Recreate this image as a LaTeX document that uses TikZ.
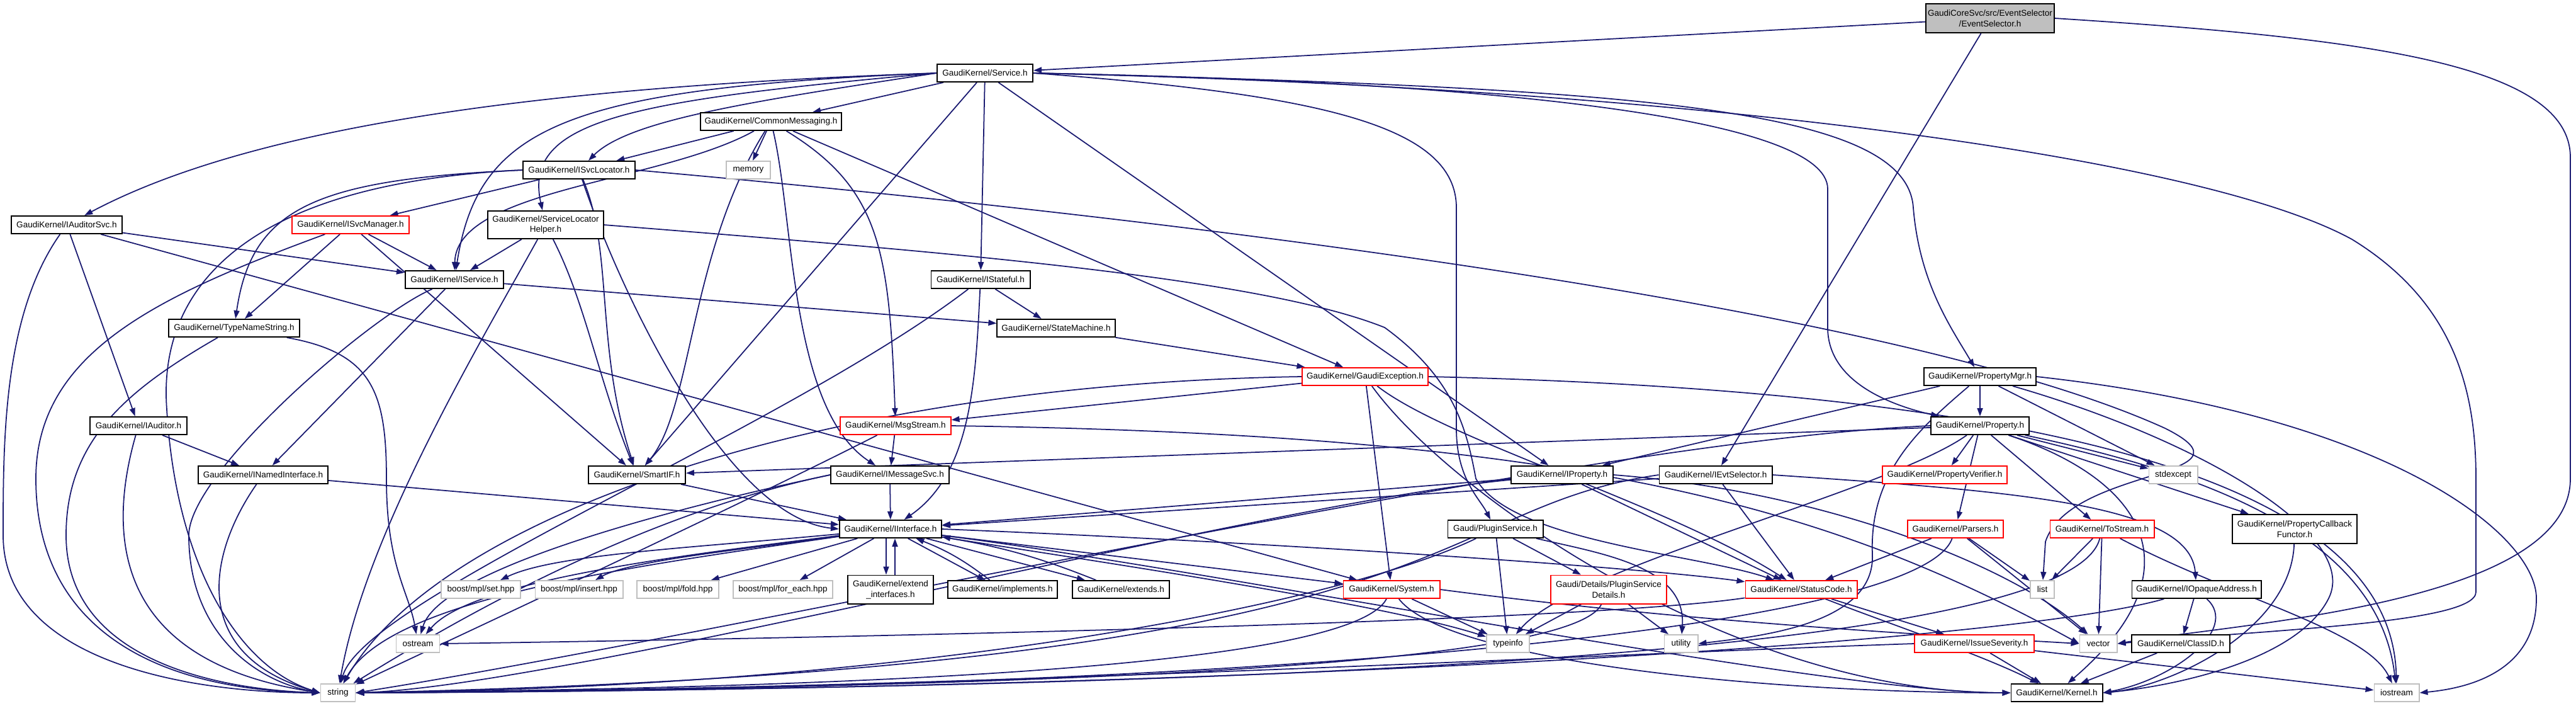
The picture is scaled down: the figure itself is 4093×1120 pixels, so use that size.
\documentclass[tikz,border=0pt]{standalone}
\usepackage{fontspec}
\setmainfont{Liberation Sans}
\usetikzlibrary{arrows.meta}
\definecolor{edgeblue}{RGB}{25,25,112}
\definecolor{lgray}{RGB}{191,191,191}
\newcommand\dxfont{\fontsize{3.85pt}{4.8pt}\selectfont}
\pgfdeclarelayer{background}
\pgfsetlayers{background,main}
\tikzset{
  box/.style={draw=black, fill=white, line width=0.55pt, inner sep=0pt, minimum height=0.28cm, font=\dxfont, align=center},
  rbox/.style={box, draw=red},
  gbox/.style={box, draw=lgray},
  dep/.style={draw=edgeblue, line width=0.5pt, -{Triangle[length=0.13cm,width=0.09cm]}}
}
\begin{document}
\begin{tikzpicture}[x=0.01cm,y=0.01cm]
\useasboundingbox (0,0) rectangle (4093,-1120);
% nodes
\node[box, fill=lgray, minimum width=2.04cm, minimum height=0.46cm] (es) at (3162,-29) {GaudiCoreSvc/src/EventSelector\\/EventSelector.h};
\node[box, minimum width=1.52cm] (svc) at (1565,-116) {GaudiKernel/Service.h};
\node[box, minimum width=2.23cm] (cm) at (1225,-193) {GaudiKernel/CommonMessaging.h};
\node[gbox, minimum width=0.70cm] (mem) at (1189,-270) {memory};
\node[box, minimum width=1.78cm] (isl) at (920,-270) {GaudiKernel/ISvcLocator.h};
\node[box, minimum width=1.76cm] (ias) at (106,-357) {GaudiKernel/IAuditorSvc.h};
\node[rbox, minimum width=1.85cm] (ism) at (557,-357) {GaudiKernel/ISvcManager.h};
\node[box, minimum width=1.83cm, minimum height=0.44cm] (slh) at (867,-357) {GaudiKernel/ServiceLocator\\Helper.h};
\node[box, minimum width=1.56cm] (isv) at (722,-444) {GaudiKernel/IService.h};
\node[box, minimum width=1.57cm] (ist) at (1558,-444) {GaudiKernel/IStateful.h};
\node[box, minimum width=2.07cm] (tns) at (372,-521) {GaudiKernel/TypeNameString.h};
\node[box, minimum width=1.87cm] (stm) at (1678,-521) {GaudiKernel/StateMachine.h};
\node[rbox, minimum width=2.00cm] (gex) at (2169,-598) {GaudiKernel/GaudiException.h};
\node[box, minimum width=1.78cm] (pmg) at (3146,-598) {GaudiKernel/PropertyMgr.h};
\node[box, minimum width=1.54cm] (iau) at (220,-676) {GaudiKernel/IAuditor.h};
\node[rbox, minimum width=1.75cm] (msg) at (1423,-676) {GaudiKernel/MsgStream.h};
\node[box, minimum width=1.56cm] (prp) at (3146,-676) {GaudiKernel/Property.h};
\node[box, minimum width=2.05cm] (inm) at (418,-754) {GaudiKernel/INamedInterface.h};
\node[box, minimum width=1.54cm] (sif) at (1012,-754) {GaudiKernel/SmartIF.h};
\node[box, minimum width=1.88cm] (ims) at (1414,-754) {GaudiKernel/IMessageSvc.h};
\node[box, minimum width=1.62cm] (ipr) at (2482,-754) {GaudiKernel/IProperty.h};
\node[box, minimum width=1.79cm] (iev) at (2726,-754) {GaudiKernel/IEvtSelector.h};
\node[rbox, minimum width=1.98cm] (pve) at (3090,-754) {GaudiKernel/PropertyVerifier.h};
\node[gbox, minimum width=0.77cm] (sex) at (3453,-754) {stdexcept};
\node[box, minimum width=1.62cm] (iif) at (1415,-840) {GaudiKernel/IInterface.h};
\node[box, minimum width=1.51cm] (plg) at (2376,-840) {Gaudi/PluginService.h};
\node[rbox, minimum width=1.52cm] (par) at (3107,-840) {GaudiKernel/Parsers.h};
\node[rbox, minimum width=1.65cm] (tos) at (3340,-840) {GaudiKernel/ToStream.h};
\node[box, minimum width=1.98cm, minimum height=0.46cm] (pcf) at (3646,-840) {GaudiKernel/PropertyCallback\\Functor.h};
\node[gbox, minimum width=1.26cm] (bset) at (764,-936) {boost/mpl/set.hpp};
\node[gbox, minimum width=1.39cm] (bins) at (920,-936) {boost/mpl/insert.hpp};
\node[gbox, minimum width=1.30cm] (bfol) at (1077,-936) {boost/mpl/fold.hpp};
\node[gbox, minimum width=1.58cm] (bfor) at (1244,-936) {boost/mpl/for\_each.hpp};
\node[box, minimum width=1.36cm, minimum height=0.45cm] (exi) at (1415,-936) {GaudiKernel/extend\\\_interfaces.h};
\node[box, minimum width=1.74cm] (imp) at (1593,-936) {GaudiKernel/implements.h};
\node[box, minimum width=1.54cm] (ext) at (1781,-936) {GaudiKernel/extends.h};
\node[rbox, minimum width=1.53cm] (sys) at (2211,-936) {GaudiKernel/System.h};
\node[rbox, minimum width=1.84cm, minimum height=0.45cm] (psd) at (2556,-936) {Gaudi/Details/PluginService\\Details.h};
\node[rbox, minimum width=1.77cm] (stc) at (2862,-936) {GaudiKernel/StatusCode.h};
\node[gbox, minimum width=0.38cm] (lst) at (3245,-936) {list};
\node[box, minimum width=2.05cm] (ioa) at (3490,-936) {GaudiKernel/IOpaqueAddress.h};
\node[gbox, minimum width=0.69cm] (ost) at (664,-1022) {ostream};
\node[gbox, minimum width=0.68cm] (tyi) at (2396,-1022) {typeinfo};
\node[gbox, minimum width=0.53cm] (utl) at (2671,-1022) {utility};
\node[gbox, minimum width=0.59cm] (vec) at (3334,-1022) {vector};
\node[box, minimum width=1.56cm] (cid) at (3465,-1022) {GaudiKernel/ClassID.h};
\node[rbox, minimum width=1.90cm] (iss) at (3137,-1022) {GaudiKernel/IssueSeverity.h};
\node[gbox, minimum width=0.55cm] (str) at (537,-1100) {string};
\node[box, minimum width=1.45cm] (ker) at (3268,-1100) {GaudiKernel/Kernel.h};
\node[gbox, minimum width=0.71cm] (ios) at (3808,-1100) {iostream};

\begin{pgfonlayer}{background}
% EventSelector
\draw[dep] (es) -- (svc);
\draw[dep] (es) -- (iev);
\draw[dep] (es.east) .. controls (3750,-60) and (4084,-100) .. (4084,-250) -- (4084,-760) .. controls (4084,-960) and (3550,-990) .. (vec.east);
% Service
\draw[dep] (svc.west) .. controls (950,-135) and (430,-185) .. (ias);
\draw[dep] (svc.west) .. controls (900,-140) and (760,-200) .. (isv);
\draw[dep] (svc.west) .. controls (1000,-160) and (830,-190) .. (slh);
\draw[dep] (svc.west) .. controls (1200,-160) and (1000,-190) .. (isl);
\draw[dep] (svc) -- (sif);
\draw[dep] (svc) -- (cm);
\draw[dep] (svc) -- (ist);
\draw[dep] (svc) -- (ipr);
\draw[dep] (svc.east) .. controls (2100,-150) and (2314,-200) .. (2314,-330) -- (2314,-680) .. controls (2314,-760) and (2350,-790) .. (plg);
\draw[dep] (svc.east) .. controls (2400,-130) and (2904,-190) .. (2904,-300) -- (2904,-520) .. controls (2904,-600) and (2990,-640) .. (prp);
\draw[dep] (svc.east) .. controls (2600,-140) and (3030,-170) .. (3040,-330) .. controls (3050,-450) and (3100,-520) .. (pmg);
\draw[dep] (svc.east) .. controls (2700,-140) and (3500,-250) .. (3737,-380) .. controls (3900,-480) and (3934,-620) .. (3934,-760) -- (3934,-940) .. controls (3934,-990) and (3600,-1000) .. (vec.east);
% CommonMessaging
\draw[dep] (cm) -- (isl);
\draw[dep] (cm) .. controls (1050,-290) and (725,-300) .. (isv);
\draw[dep] (cm) .. controls (1095,-400) and (1100,-650) .. (sif);
\draw[dep] (cm) -- (mem);
\draw[dep] (cm) .. controls (1262,-350) and (1255,-650) .. (ims);
\draw[dep] (cm) .. controls (1400,-300) and (1413,-400) .. (msg);
\draw[dep] (cm) -- (gex);
% ISvcLocator
\draw[dep] (isl) -- (ism);
\draw[dep] (isl.west) .. controls (500,-285) and (400,-330) .. (tns);
\draw[dep] (isl.west) .. controls (400,-290) and (250,-450) .. (265,-650) .. controls (280,-900) and (380,-1060) .. (str.west);
\draw[dep] (isl) .. controls (980,-450) and (1150,-820) .. (iif.west);
\draw[dep] (isl) .. controls (975,-400) and (945,-550) .. (sif);
\draw[dep] (isl.east) .. controls (1800,-340) and (3000,-480) .. (3440,-680) .. controls (3600,-760) and (3290,-740) .. (3250,-860) -- (lst);
% ISvcManager
\draw[dep] (ism) .. controls (250,-470) and (57,-560) .. (57,-760) .. controls (57,-1000) and (250,-1095) .. (str.west);
\draw[dep] (ism) -- (tns);
\draw[dep] (ism) -- (sif);
\draw[dep] (ism) -- (isv);
% IAuditorSvc
\draw[dep] (ias) .. controls (5,-500) and (5,-700) .. (5,-850) .. controls (5,-1050) and (300,-1100) .. (str.west);
\draw[dep] (ias) -- (iau);
\draw[dep] (ias) -- (sys);
\draw[dep] (ias) -- (isv);
% ServiceLocatorHelper
\draw[dep] (slh) -- (isv);
\draw[dep] (slh) .. controls (760,-550) and (580,-850) .. (str);
\draw[dep] (slh) .. controls (930,-480) and (950,-600) .. (sif);
\draw[dep] (slh.east) .. controls (1500,-400) and (2000,-440) .. (2200,-520) .. controls (2310,-600) and (2330,-680) .. (2345,-760) .. controls (2400,-860) and (2700,-880) .. (stc);
% IService
\draw[dep] (isv) -- (stm);
\draw[dep] (isv) -- (inm);
\draw[dep] (isv) .. controls (590,-500) and (300,-750) .. (300,-850) .. controls (300,-1000) and (400,-1080) .. (str.west);
% TypeNameString
\draw[dep] (tns) .. controls (200,-620) and (105,-700) .. (105,-850) .. controls (105,-1050) and (350,-1095) .. (str.west);
\draw[dep] (tns) .. controls (590,-560) and (614,-620) .. (614,-760) .. controls (614,-900) and (650,-940) .. (ost);
% IAuditor
\draw[dep] (iau) .. controls (170,-850) and (180,-1050) .. (str.west);
\draw[dep] (iau) -- (inm);
% INamedInterface
\draw[dep] (inm) -- (iif);
\draw[dep] (inm) .. controls (330,-880) and (300,-1040) .. (str.west);
% SmartIF
\draw[dep] (sif) -- (iif);
% IStateful
\draw[dep] (ist) -- (stm);
\draw[dep] (ist) .. controls (1550,-600) and (1545,-750) .. (iif);
\draw[dep] (ist) .. controls (1250,-680) and (580,-950) .. (str);
% StateMachine
\draw[dep] (stm) -- (gex);
% GaudiException
\draw[dep] (gex) -- (msg);
\draw[dep] (gex.west) .. controls (1300,-610) and (700,-820) .. (str);
\draw[dep] (gex) -- (sys);
\draw[dep] (gex) .. controls (2300,-700) and (2650,-800) .. (stc);
\draw[dep] (gex) .. controls (2300,-780) and (2750,-1100) .. (ker.west);
\draw[dep] (gex.east) .. controls (3200,-620) and (3800,-750) .. (ios);
% MsgStream
\draw[dep] (msg) -- (ims);
\draw[dep] (msg) .. controls (1200,-790) and (750,-1000) .. (str);
\draw[dep] (msg.east) .. controls (2500,-690) and (2900,-800) .. (vec.west);
% IMessageSvc
\draw[dep] (ims) -- (iif);
\draw[dep] (ims.west) .. controls (1000,-820) and (700,-1000) .. (str);
\draw[dep] (ims.west) .. controls (1100,-800) and (700,-900) .. (ost);
% IProperty
\draw[dep] (ipr) -- (iif);
\draw[dep] (ipr) .. controls (2000,-800) and (900,-1090) .. (str.east);
\draw[dep] (ipr) -- (stc);
\draw[dep] (ipr.east) .. controls (2900,-780) and (3200,-900) .. (vec);
% IEvtSelector
\draw[dep] (iev) -- (iif);
\draw[dep] (iev) -- (stc);
\draw[dep] (iev.east) .. controls (3200,-780) and (3480,-800) .. (ioa);
\draw[dep] (iev.west) .. controls (2250,-810) and (2350,-1060) .. (str.east);
% PluginService
\draw[dep] (plg) .. controls (2150,-950) and (1500,-1090) .. (str.east);
\draw[dep] (plg) -- (tyi);
\draw[dep] (plg) -- (psd);
\draw[dep] (plg) .. controls (2550,-880) and (2680,-900) .. (utl);
% PluginServiceDetails
\draw[dep] (psd) -- (tyi);
\draw[dep] (psd) .. controls (2500,-1050) and (1800,-1090) .. (str.east);
\draw[dep] (psd) -- (utl);
% System
\draw[dep] (sys) -- (tyi);
\draw[dep] (sys) .. controls (2150,-1050) and (1500,-1090) .. (str.east);
\draw[dep] (sys) .. controls (2300,-1050) and (2800,-1100) .. (ker.west);
\draw[dep] (sys.east) .. controls (2700,-990) and (3100,-1010) .. (vec.west);
% StatusCode
\draw[dep] (stc) .. controls (2500,-990) and (1200,-1015) .. (ost.east);
\draw[dep] (stc) -- (iss);
\draw[dep] (stc) .. controls (3000,-990) and (3150,-1040) .. (ker);
% IssueSeverity
\draw[dep] (iss) -- (ker);
\draw[dep] (iss) -- (ios);
\draw[dep] (iss.west) .. controls (2500,-1040) and (1500,-1095) .. (str.east);
% IInterface
\draw[dep] (iif) .. controls (1100,-870) and (880,-880) .. (bset);
\draw[dep] (iif) .. controls (1200,-870) and (1000,-890) .. (bins);
\draw[dep] (iif) -- (bfol);
\draw[dep] (iif) -- (bfor);
\draw[dep] ([xshift=-0.07cm]iif.south) -- ([xshift=-0.07cm]exi.north);
\draw[dep] ([xshift=0.07cm]exi.north) -- ([xshift=0.07cm]iif.south);
\draw[dep] (iif) -- (imp);
\draw[dep] (imp) to[bend right=8] (iif);
\draw[dep] (iif) -- (ext);
\draw[dep] (ext) to[bend right=6] (iif);
\draw[dep] (iif) -- (sys);
\draw[dep] (iif.east) .. controls (2000,-860) and (2600,-900) .. (stc);
\draw[dep] (iif) .. controls (1900,-900) and (2900,-1100) .. (ker.west);
\draw[dep] (iif) .. controls (1800,-900) and (2200,-960) .. (tyi);
\draw[dep] (iif) .. controls (1100,-880) and (750,-920) .. (ost);
\draw[dep] (iif) .. controls (1000,-900) and (620,-950) .. (str);
% Property
\draw[dep] (prp) -- (pve);
\draw[dep] (prp) -- (par);
\draw[dep] (prp) -- (tos);
\draw[dep] (prp) -- (pcf);
\draw[dep] (prp) -- (sex);
\draw[dep] (prp) -- (sif);
\draw[dep] (prp.west) .. controls (2500,-700) and (1200,-1000) .. (str.east);
\draw[dep] (prp) .. controls (3000,-780) and (2500,-900) .. (tyi);
\draw[dep] (prp) .. controls (3500,-750) and (3780,-850) .. (ios);
\draw[dep] (prp) .. controls (3400,-760) and (3500,-900) .. (ker);
% PropertyMgr
\draw[dep] (pmg) -- (prp);
\draw[dep] (pmg) -- (ipr);
\draw[dep] (pmg) -- (sex);
\draw[dep] (pmg.east) .. controls (3800,-660) and (4030,-850) .. (4030,-950) .. controls (4030,-1050) and (3950,-1090) .. (ios.east);
\draw[dep] (pmg) .. controls (3500,-700) and (3750,-850) .. (3700,-950) .. controls (3650,-1050) and (3450,-1090) .. (ker.east);
\draw[dep] (pmg) .. controls (3050,-680) and (2970,-750) .. (2975,-880) .. controls (2980,-990) and (2800,-1010) .. (utl.east);
% Parsers
\draw[dep] (par) -- (lst);
\draw[dep] (par) -- (vec);
\draw[dep] (par) -- (stc);
\draw[dep] (par) .. controls (3050,-1000) and (2000,-1095) .. (str.east);
% ToStream
\draw[dep] (tos) -- (lst);
\draw[dep] (tos) -- (vec);
\draw[dep] (tos) .. controls (3550,-950) and (3760,-1000) .. (ios);
\draw[dep] (tos) .. controls (3300,-1000) and (2500,-1090) .. (str.east);
% PropertyCallbackFunctor
\draw[dep] (pcf) .. controls (3640,-1000) and (3450,-1090) .. (ker.east);
% IOpaqueAddress
\draw[dep] (ioa) -- (cid);
\draw[dep] (ioa) .. controls (3560,-1000) and (3450,-1080) .. (ker.east);
\draw[dep] (ioa) .. controls (3200,-1020) and (2000,-1095) .. (str.east);
% ClassID
\draw[dep] (cid) -- (ker);
\end{pgfonlayer}
\end{tikzpicture}
\end{document}
